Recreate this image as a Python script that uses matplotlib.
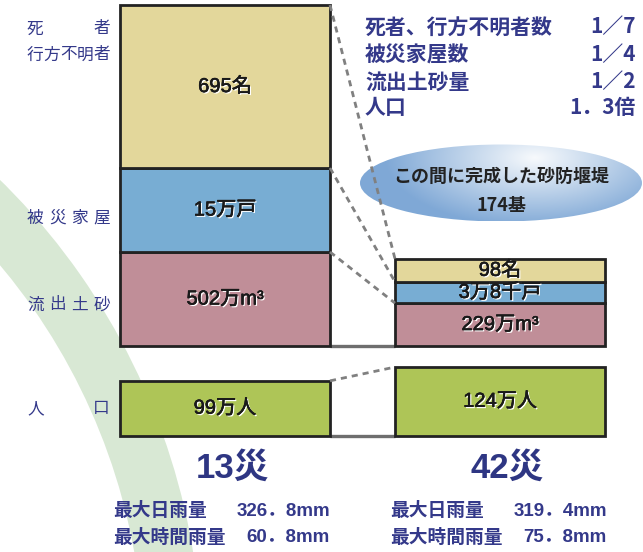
import numpy as np
import matplotlib
matplotlib.use('Agg')
import matplotlib.pyplot as plt
import matplotlib.patches as mpatches
import matplotlib.patheffects as pe

plt.rcParams['font.family'] = ['Noto Sans CJK JP', 'DejaVu Sans']

# --- data ---
categories = ['死者\n行方不明者', '被災家屋', '流出土砂', '人口']
disasters = ['13災', '42災']
values_13 = [695, 15, 502, 99]          # 名, 万戸, 万m3, 万人
values_42 = [98, 3.8, 229, 124]
labels_13 = ['695名', '15万戸', '502万m³', '99万人']
labels_42 = ['98名', '3万8千戸', '229万m³', '124万人']
ratio_names = ['死者、行方不明者数', '被災家屋数', '流出土砂量', '人口']
ratio_values = ['1／7', '1／4', '1／2', '1．3倍']
rain_names = ['最大日雨量', '最大時間雨量']
rain_13 = ['326．8mm', '60．8mm']
rain_42 = ['319．4mm', '75．8mm']
dam_text = ['この間に完成した砂防堰堤', '174基']

# pixel height per unit, one scale per category (style)
px_per_unit = [0.2345, 5.6, 0.1873, 0.552]
colors = ['#e3d79b', '#78add3', '#c08e98', '#aec557']
navy = '#34398a'

W, H = 643, 552
fig = plt.figure(figsize=(W / 100, H / 100), dpi=100)
ax = fig.add_axes([0, 0, 1, 1])
ax.set_xlim(0, W)
ax.set_ylim(0, H)
ax.axis('off')

def yd(y):
    # convert a "from top" pixel position to axis coordinate
    return H - y

# background green arc
ax.add_patch(mpatches.Wedge((-472, yd(661)), 674, 0, 70, width=58,
                            facecolor='#d8e8d4', edgecolor='none', zorder=0))

# gradient ellipse
ecx, ecy, ew, eh = 501, yd(183), 282, 77
ell = mpatches.Ellipse((ecx, ecy), ew, eh, facecolor='none', edgecolor='none', zorder=1)
ax.add_patch(ell)
gx, gy = np.meshgrid(np.linspace(ecx - ew / 2, ecx + ew / 2, 300),
                     np.linspace(ecy - eh / 2, ecy + eh / 2, 100))
r = np.sqrt(((gx - 535) / 150) ** 2 + ((gy - (ecy + 25)) / 70) ** 2)
r = np.clip(r, 0, 1)
c0 = np.array([0.97, 0.98, 0.99])
c1 = np.array([0.50, 0.66, 0.84])
img = c0[None, None, :] * (1 - r[..., None]) + c1[None, None, :] * r[..., None]
im = ax.imshow(img, extent=[ecx - ew / 2, ecx + ew / 2, ecy - eh / 2, ecy + eh / 2],
               origin='lower', aspect='auto', zorder=1)
im.set_clip_path(ell)
for txt, y in zip(dam_text, [176, 205]):
    ax.text(ecx, yd(y), txt, ha='center', va='center', fontsize=13,
            fontweight='bold', color='#222222', zorder=5)

# bars
x_pos = [225, 500]
bar_w = 210
stack_base = yd(346)
pop_base = yd(435.5)
# white drop shadow + thin stroke to get a medium weight look
box_fx = [pe.withSimplePatchShadow(offset=(1, -1), shadow_rgbFace='white', alpha=1),
          pe.withStroke(linewidth=0.35, foreground='#1a1a1a')]
box_font = ['Liberation Sans', 'Noto Sans CJK JP']

tops = []
for xi, vals, labs in zip(x_pos, [values_13, values_42], [labels_13, labels_42]):
    bottom = stack_base
    corners = []
    for i in [2, 1, 0]:
        h = vals[i] * px_per_unit[i]
        ax.bar(xi, h, bottom=bottom, width=bar_w, color=colors[i],
               edgecolor='#222222', linewidth=2, zorder=3)
        ax.text(xi, bottom + h / 2, labs[i], ha='center', va='center',
                fontsize=14.5, family=box_font, color='#1a1a1a',
                path_effects=box_fx, zorder=6)
        bottom += h
        corners.append(bottom)
    h = vals[3] * px_per_unit[3]
    ax.bar(xi, h, bottom=pop_base, width=bar_w, color=colors[3],
           edgecolor='#222222', linewidth=2, zorder=3)
    ax.text(xi, pop_base + h / 2, labs[3], ha='center', va='center',
            fontsize=14.5, family=box_font, color='#1a1a1a',
            path_effects=box_fx, zorder=6)
    corners.append(pop_base + h)
    tops.append(corners)

x_l = x_pos[0] + bar_w / 2
x_r = x_pos[1] - bar_w / 2
# dashed connectors
for a, b in zip(tops[0], tops[1]):
    ax.plot([x_l, x_r], [a, b], color='#808080', lw=2, ls=(0, (2.2, 1.8)), zorder=4)
# gray baselines
for yb in [stack_base, pop_base]:
    ax.plot([x_l, x_r], [yb, yb], color='#6e6e6e', lw=2.4, zorder=2,
            solid_capstyle='butt')

# left category labels, spread across a fixed width
def spread(text, x0, x1, y, size):
    em = size * 100 / 72
    n = len(text)
    xs = np.linspace(x0 + em / 2, x1 - em / 2, n)
    for ch, xc in zip(text, xs):
        ax.text(xc, yd(y), ch, ha='center', va='center', fontsize=size, color=navy)

spread('死者', 27, 110, 29, 12)
spread('行方不明者', 27, 110, 55, 12)
spread('被災家屋', 27, 110, 218, 12)
spread('流出土砂', 27, 110, 305, 12)
spread('人口', 27, 110, 409, 12)

# ratio list, top right
for name, val, y in zip(ratio_names, ratio_values, [27, 55, 82, 108]):
    ax.text(365, yd(y), name, ha='left', va='center', fontsize=15,
            fontweight='bold', color=navy)
    ax.text(636, yd(y), val, ha='right', va='center', fontsize=15,
            fontweight='bold', color=navy)

# disaster titles and rainfall
for xi, title, rains, xl, xr in zip(x_pos, disasters, [rain_13, rain_42],
                                    [113, 390], [330, 607]):
    ax.text(xi + 7, yd(468), title, ha='center', va='center', fontsize=25,
            fontweight='bold', family=['Liberation Sans', 'Noto Sans CJK JP'],
            color='#2e3683')
    for name, val, y in zip(rain_names, rains, [511, 537]):
        ax.text(xl, yd(y), name, ha='left', va='center', fontsize=13.5,
                fontweight='bold', color=navy)
        ax.text(xr, yd(y), val, ha='right', va='center', fontsize=13.5,
                fontweight='bold', family=['Liberation Sans', 'Noto Sans CJK JP'],
                color=navy)

fig.savefig('out.png', dpi=100)
